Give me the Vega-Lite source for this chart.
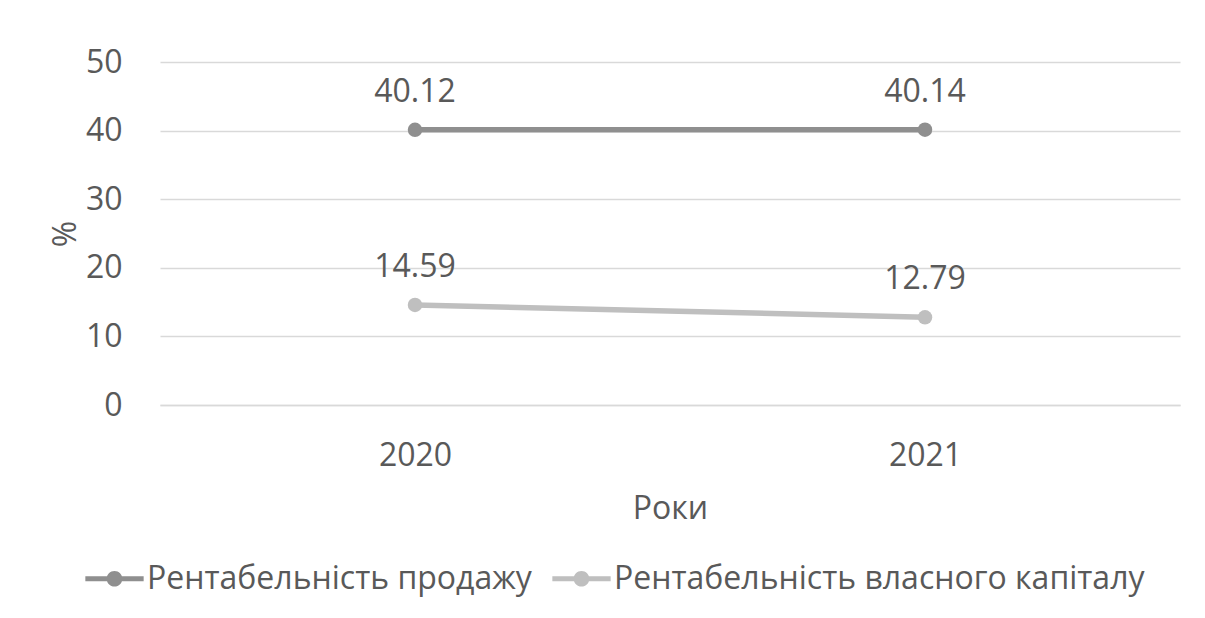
{
  "$schema": "https://vega.github.io/schema/vega-lite/v6.json",
  "autosize": "none",
  "width": 1020,
  "height": 343,
  "padding": {"left": 160, "top": 62, "right": 25, "bottom": 213},
  "background": "white",
  "config": {
    "font": "Open Sans",
    "view": {"stroke": null},
    "axis": {"labelFont": "Open Sans", "titleFont": "Open Sans", "labelColor": "#595959", "titleColor": "#595959", "labelFontSize": 32, "titleFontSize": 32, "titleFontWeight": "normal"}
  },
  "data": {
    "values": [
      {"year": "2020", "series": "Рентабельність продажу", "value": 40.12},
      {"year": "2021", "series": "Рентабельність продажу", "value": 40.14},
      {"year": "2020", "series": "Рентабельність власного капіталу", "value": 14.59},
      {"year": "2021", "series": "Рентабельність власного капіталу", "value": 12.79}
    ]
  },
  "encoding": {
    "x": {
      "field": "year", "type": "ordinal", "title": "Роки",
      "scale": {"type": "point", "padding": 0.5},
      "axis": {"labelAngle": 0, "ticks": false, "domainColor": "#d9d9d9", "domainWidth": 1.5, "labelPadding": 35, "titlePadding": 22}
    },
    "y": {
      "field": "value", "type": "quantitative", "title": "%",
      "scale": {"domain": [0, 50], "nice": false},
      "axis": {"values": [0, 10, 20, 30, 40, 50], "ticks": false, "domain": false, "gridColor": "#d9d9d9", "gridWidth": 1.5, "labelPadding": 38, "titlePadding": 3}
    },
    "color": {
      "field": "series", "type": "nominal",
      "scale": {"domain": ["Рентабельність продажу", "Рентабельність власного капіталу"], "range": ["#8f8f8f", "#bfbfbf"]},
      "legend": {
        "orient": "none", "direction": "horizontal", "title": null,
        "legendX": -75, "legendY": 487,
        "symbolType": "M-1,-0.09H1V0.09H-1Z M0.27,0 A0.27,0.27 0 1,1 -0.27,0 A0.27,0.27 0 1,1 0.27,0Z",
        "symbolSize": 3400, "symbolStrokeWidth": 0, "symbolOpacity": 1,
        "labelFont": "Open Sans", "labelFontSize": 32, "labelColor": "#595959", "labelOffset": 3, "labelLimit": 0,
        "columnPadding": 20
      }
    }
  },
  "layer": [
    {"mark": {"type": "line", "strokeWidth": 5.5}},
    {"mark": {"type": "point", "filled": true, "size": 210, "opacity": 1}},
    {"mark": {"type": "text", "dy": -38, "fontSize": 32}, "encoding": {"text": {"field": "value", "type": "quantitative", "format": ".2f"}, "color": {"value": "#595959"}}}
  ]
}
